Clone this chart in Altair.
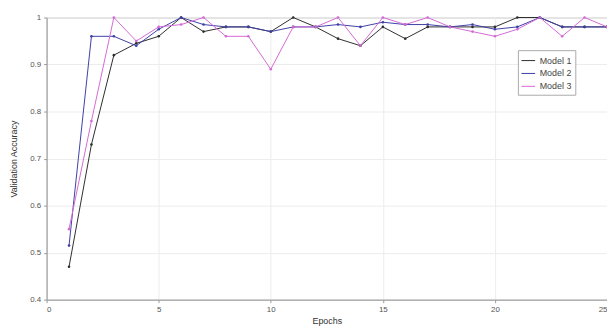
import altair as alt
import pandas as pd

epochs = list(range(1, 26))
model1 = [0.47, 0.73, 0.92, 0.945, 0.96, 1.0, 0.97, 0.98, 0.98, 0.97, 1.0, 0.98, 0.955,
          0.94, 0.98, 0.955, 0.98, 0.98, 0.98, 0.98, 1.0, 1.0, 0.98, 0.98, 0.98]
model2 = [0.515, 0.96, 0.96, 0.94, 0.975, 1.0, 0.985, 0.98, 0.98, 0.97, 0.98, 0.98, 0.985,
          0.98, 0.99, 0.985, 0.985, 0.98, 0.985, 0.975, 0.98, 1.0, 0.98, 0.98, 0.98]
model3 = [0.55, 0.78, 1.0, 0.95, 0.98, 0.985, 1.0, 0.96, 0.96, 0.89, 0.98, 0.98, 1.0,
          0.94, 1.0, 0.985, 1.0, 0.98, 0.97, 0.96, 0.975, 1.0, 0.96, 1.0, 0.98]
series_names = ["Model 1", "Model 2", "Model 3"]
series_colors = ["#2e2e2e", "#3f3fa8", "#d36ad3"]
x_ticks = [0, 5, 10, 15, 20, 25]
y_ticks = [0.4, 0.5, 0.6, 0.7, 0.8, 0.9, 1.0]

rows = []
for name, vals in zip(series_names, [model1, model2, model3]):
    for e, v in zip(epochs, vals):
        rows.append({"Epoch": e, "Accuracy": v, "Model": name})
df = pd.DataFrame(rows)

color = alt.Color(
    "Model:N",
    scale=alt.Scale(domain=series_names, range=series_colors),
    legend=alt.Legend(
        title=None, orient="none", legendX=476, legendY=33,
        strokeColor="#aaaaaa", fillColor="white", padding=3,
        labelFontSize=9, labelColor="#444444", symbolType="stroke",
        symbolSize=190, symbolStrokeWidth=1, rowPadding=0, labelOffset=4,
        labelFont="Liberation Sans",
    ),
)

chart = alt.Chart(df).mark_line(
    strokeWidth=1, point=alt.OverlayMarkDef(filled=True, size=7)
).encode(
    x=alt.X("Epoch:Q", scale=alt.Scale(domain=[0, 25], nice=False),
            axis=alt.Axis(values=x_ticks, title="Epochs", format="d")),
    y=alt.Y("Accuracy:Q", scale=alt.Scale(domain=[0.4, 1.0], nice=False, zero=False),
            axis=alt.Axis(values=y_ticks, title="Validation Accuracy",
                          labelExpr="datum.value == 1 ? '1' : format(datum.value, '.1f')")),
    color=color,
).properties(
    width=566, height=285,
    autosize=alt.AutoSizeParams(type="none"),
    padding={"left": 39, "top": 8, "right": 0, "bottom": 26},
).configure_view(
    stroke="#bbbbbb", strokeWidth=1
).configure_axis(
    grid=True, gridColor="#ececec", gridWidth=1,
    domainColor="#999999", tickColor="#999999", tickSize=3,
    labelFont="Liberation Sans", labelFontSize=8, labelColor="#555555",
    titleFont="Liberation Sans", titleFontSize=9, titleFontWeight="normal",
    titleColor="#333333", labelPadding=3,
).configure_axisY(
    titlePadding=11
).configure_axisX(
    titlePadding=3
)

chart.save("out.html", embed_options={"renderer": "svg", "actions": False})
